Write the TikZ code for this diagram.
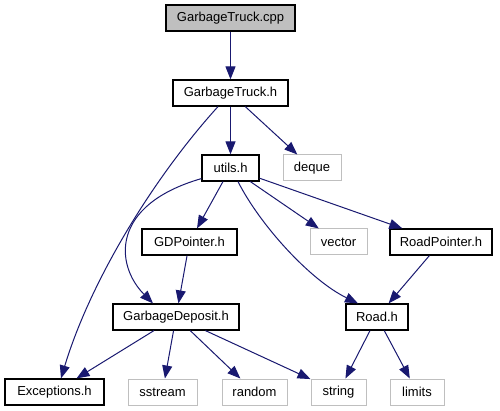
\documentclass[tikz,border=0pt]{standalone}
\usepackage{fontspec}
\setmainfont{Liberation Sans}
\usetikzlibrary{arrows.meta,calc}
\definecolor{edgeblue}{HTML}{191970}
\definecolor{graybox}{HTML}{BFBFBF}
\tikzset{
  file/.style={draw=black, line width=1.2pt, fill=white, inner sep=0pt, minimum height=26pt, font=\fontsize{13}{15}\selectfont},
  ext/.style={draw=graybox, line width=1pt, fill=white, inner sep=0pt, minimum height=26pt, font=\fontsize{13}{15}\selectfont},
  edge/.style={draw=edgeblue, line width=1pt, -{Triangle[length=13pt,width=10pt]}}
}
\begin{document}
\begin{tikzpicture}[x=1pt,y=-1pt]
\useasboundingbox (0,0) rectangle (500,411);
\node[file, fill=graybox, minimum width=129pt] (cpp) at (230.5,18) {GarbageTruck.cpp};
\node[file, minimum width=115pt] (gth) at (230.5,93) {GarbageTruck.h};
\node[file, minimum width=57pt] (utils) at (230.5,168) {utils.h};
\node[ext, minimum width=58pt] (deque) at (312,168) {deque};
\node[file, minimum width=95pt] (gdp) at (189.5,242) {GDPointer.h};
\node[ext, minimum width=57pt] (vector) at (338.5,242) {vector};
\node[file, minimum width=102pt] (rp) at (441,242) {RoadPointer.h};
\node[file, minimum width=126pt] (gd) at (176,317) {GarbageDeposit.h};
\node[file, minimum width=62pt] (road) at (377,317) {Road.h};
\node[file, minimum width=99pt] (exc) at (54.5,392) {Exceptions.h};
\node[ext, minimum width=69pt] (sstream) at (162.5,392) {sstream};
\node[ext, minimum width=65pt] (random) at (254.5,392) {random};
\node[ext, minimum width=55pt] (string) at (338.5,392) {string};
\node[ext, minimum width=54pt] (limits) at (417,392) {limits};

\draw[edge] (cpp) -- (gth);
\draw[edge] (gth) -- (utils);
\draw[edge] (gth) -- (deque);
\draw[edge] ($(gth.south)+(-12.5,0)$) .. controls (155,176) and (91,279) .. ($(exc.north)+(6.5,0)$);
\draw[edge] (utils) -- (gdp);
\draw[edge] (utils) -- (vector);
\draw[edge] (utils) -- (rp);
\draw[edge] ($(utils.south west)+(0,-3)$) .. controls (110,205) and (115,265) .. ($(gd.north)+(-23,0)$);
\draw[edge] ($(utils.south)+(7.5,0)$) .. controls (260,225) and (310,280) .. ($(road.north)+(-19,0)$);
\draw[edge] (gdp) -- (gd);
\draw[edge] (rp) -- (road);
\draw[edge] (gd) -- (exc);
\draw[edge] (gd) -- (sstream);
\draw[edge] (gd) -- (random);
\draw[edge] (gd) -- (string);
\draw[edge] (road) -- (string);
\draw[edge] (road) -- (limits);
\end{tikzpicture}
\end{document}
